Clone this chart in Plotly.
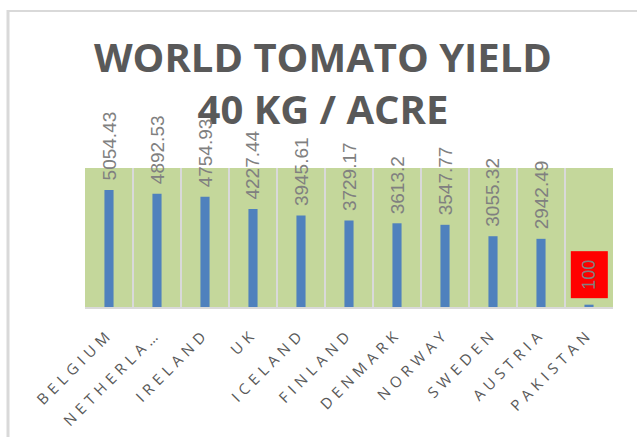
import plotly.graph_objects as go

countries = ["BELGIUM", "NETHERLANDS", "IRELAND", "UK", "ICELAND", "FINLAND",
             "DENMARK", "NORWAY", "SWEDEN", "AUSTRIA", "PAKISTAN"]
tick_labels = ["BELGIUM", "NETHERLA…", "IRELAND", "UK", "ICELAND", "FINLAND",
               "DENMARK", "NORWAY", "SWEDEN", "AUSTRIA", "PAKISTAN"]
yield_values = [5054.43, 4892.53, 4754.93, 4227.44, 3945.61, 3729.17,
                3613.2, 3547.77, 3055.32, 2942.49, 100]
label_texts = ["5054.43", "4892.53", "4754.93", "4227.44", "3945.61", "3729.17",
               "3613.2", "3547.77", "3055.32", "2942.49", "100"]
highlight = "PAKISTAN"

fig = go.Figure()
fig.add_trace(go.Bar(
    x=countries, y=yield_values,
    marker=dict(color="#4F81BD", line=dict(width=0)),
    width=0.19,
    hoverinfo="x+y",
))

annotations = []
for c, v, t in zip(countries, yield_values, label_texts):
    if c == highlight:
        annotations.append(dict(
            x=c, y=v, xref="x", yref="y", text=t, textangle=-90,
            showarrow=False, yanchor="bottom", xanchor="center", yshift=6,
            bgcolor="#FF0000", borderpad=8,
            font=dict(family="Liberation Sans", size=18, color="#808080"),
        ))
    else:
        annotations.append(dict(
            x=c, y=v, xref="x", yref="y", text=t, textangle=-90,
            showarrow=False, yanchor="bottom", xanchor="center", yshift=7,
            font=dict(family="Liberation Sans", size=19, color="#808080"),
        ))

spaced_ticks = ['<span style="letter-spacing:5px">%s</span>' % t for t in tick_labels]

fig.update_layout(
    width=637, height=437,
    margin=dict(l=85, r=24, t=168, b=130, pad=0, autoexpand=False),
    paper_bgcolor="white",
    plot_bgcolor="#C4D79B",
    showlegend=False,
    title=dict(
        text="WORLD TOMATO YIELD<br>40 KG / ACRE",
        x=0.507, xanchor="center", xref="container",
        y=0.836, yanchor="top", yref="container",
        font=dict(family="Open Sans", size=40, color="#595959", weight=700),
    ),
    annotations=annotations,
    shapes=[
        dict(type="line", xref="paper", yref="paper",
             x0=(8 - 85) / 528, x1=(640 - 85) / 528,
             y0=(437 - 11 - 130) / 139, y1=(437 - 11 - 130) / 139,
             line=dict(color="#D9D9D9", width=2)),
        dict(type="line", xref="paper", yref="paper",
             x0=(8 - 85) / 528, x1=(8 - 85) / 528,
             y0=(437 - 10 - 130) / 139, y1=(-10 - 130) / 139,
             line=dict(color="#D9D9D9", width=3)),
    ],
)
fig.update_xaxes(
    type="category",
    automargin=False,
    tickson="boundaries",
    showgrid=True, gridcolor="#D9D9D9", gridwidth=1.5,
    showline=True, linecolor="#D9D9D9", linewidth=2, mirror=False,
    ticks="", tickangle=-45,
    tickvals=countries, ticktext=spaced_ticks,
    tickfont=dict(family="Open Sans", size=15, color="#595959"),
    ticklabelstandoff=10,
    range=[-0.5, len(countries) - 0.5],
    fixedrange=True,
)
fig.update_yaxes(
    range=[0, 6000], showgrid=False, zeroline=False, showticklabels=False,
    showline=False, fixedrange=True, automargin=False,
)
fig.write_html("out.html")
